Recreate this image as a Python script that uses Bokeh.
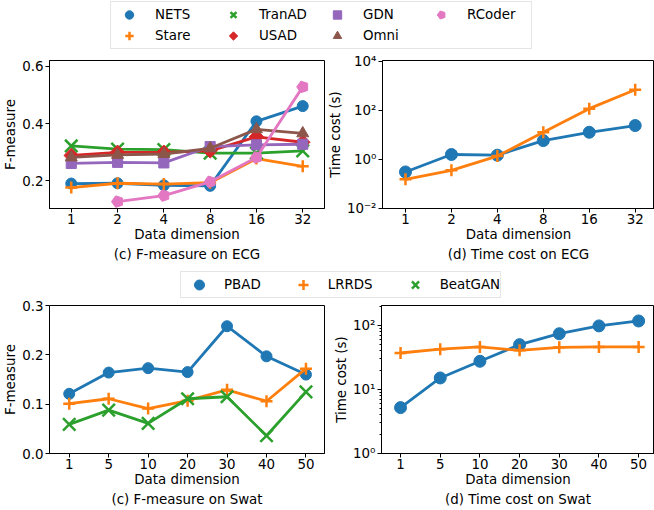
import math
from bokeh.plotting import figure
from bokeh.models import (FixedTicker, CustomJSTickFormatter, NumeralTickFormatter,
                          Legend, LegendItem, Title, Range1d)
from bokeh.layouts import column, row
from bokeh.embed import file_html
from bokeh.resources import INLINE

NAN = float("nan")

# ---------------- data ----------------
ecg_dims = ["1", "2", "4", "8", "16", "32"]
ecg_f_nets = [0.191, 0.192, 0.185, 0.183, 0.408, 0.461]
ecg_f_stare = [0.177, 0.192, 0.189, 0.194, 0.278, 0.251]
ecg_f_tranad = [0.322, 0.311, 0.309, 0.297, 0.297, 0.305]
ecg_f_usad = [0.289, 0.300, 0.300, 0.305, 0.354, 0.335]
ecg_f_gdn = [0.261, 0.265, 0.263, 0.320, 0.326, 0.328]
ecg_f_omni = [0.282, 0.291, 0.294, 0.314, 0.380, 0.366]
ecg_f_rcoder = [NAN, 0.128, 0.149, 0.197, 0.282, 0.528]

ecg_t_nets = [0.31, 1.6, 1.5, 5.9, 12.9, 24.3]
ecg_t_stare = [0.155, 0.36, 1.38, 12.9, 119, 703]

swat_dims = ["1", "5", "10", "20", "30", "40", "50"]
swat_f_pbad = [0.121, 0.164, 0.173, 0.165, 0.258, 0.197, 0.160]
swat_f_lrrds = [0.101, 0.111, 0.091, 0.107, 0.129, 0.106, 0.172]
swat_f_beatgan = [0.059, 0.088, 0.061, 0.111, 0.115, 0.036, 0.125]

swat_t_pbad = [5.2, 15.1, 27.5, 50, 74, 98, 117]
swat_t_lrrds = [37, 42.5, 46, 40.7, 45.4, 46, 46]

ecg_f_ticks = [0.2, 0.4, 0.6]
ecg_t_ticks = [1e-2, 1e0, 1e2, 1e4]
swat_f_ticks = [0.0, 0.1, 0.2, 0.3]
swat_t_ticks = [1, 10, 100]

# ---------------- style ----------------
FONT = "DejaVu Sans"
FS = "13.4px"
LW = 2.8
BLUE = "#1f77b4"; ORANGE = "#ff7f0e"; GREEN = "#2ca02c"; RED = "#d62728"
PURPLE = "#9467bd"; BROWN = "#8c564b"; PINK = "#e377c2"

SUP_JS = """
const sup = {"0":"\u2070","1":"\u00b9","2":"\u00b2","3":"\u00b3","4":"\u2074",
             "5":"\u2075","6":"\u2076","7":"\u2077","8":"\u2078","9":"\u2079","-":"\u207b"};
const e = Math.round(Math.log10(tick));
return "10" + String(e).split("").map(c => sup[c]).join("");
"""


def draw_ngon(p, xs, ys, color, n, radius, angle, fallback, fsize):
    if hasattr(p, "ngon"):
        try:
            return p.ngon(xs, ys, radius=radius, radius_units="screen", n=n,
                          angle=angle, fill_color=color, line_color=color)
        except Exception:
            pass
    return p.scatter(xs, ys, marker=fallback, size=fsize, fill_color=color, line_color=color)


def draw_marker(p, xs, ys, color, kind, size=11):
    if kind == "circle":
        return p.scatter(xs, ys, marker="circle", size=size, fill_color=color, line_color=color)
    if kind == "cross":
        return p.scatter(xs, ys, marker="cross", size=size + 1, line_color=color, line_width=2.5)
    if kind == "x":
        return p.scatter(xs, ys, marker="x", size=size * 1.6, line_color=color, line_width=2.5)
    if kind == "diamond":
        return draw_ngon(p, xs, ys, color, 4, size * 0.66, 0.0, "diamond", size * 1.3)
    if kind == "square":
        return p.scatter(xs, ys, marker="square", size=size * 0.92, fill_color=color, line_color=color)
    if kind == "triangle":
        return p.scatter(xs, ys, marker="triangle", size=size + 1, fill_color=color, line_color=color)
    if kind == "pentagon":
        return draw_ngon(p, xs, ys, color, 5, size * 0.55, math.pi / 2, "hex", size)


def draw_series(p, ys, color, kind, size=11):
    xs = list(range(len(ys)))
    p.line(xs, ys, line_color=color, line_width=LW)
    draw_marker(p, xs, ys, color, kind, size)


def make_fig(width, height, x_range, y_range, y_type, left, right, top, bottom,
             xlabels, ylabel, caption, yticks, log=False, minor=None):
    p = figure(width=width, height=height, x_range=x_range, y_range=y_range,
               y_axis_type=y_type, output_backend="svg", toolbar_location=None,
               min_border_left=left, min_border_right=right,
               min_border_top=top, min_border_bottom=bottom)
    p.xgrid.visible = False
    p.ygrid.visible = False
    p.outline_line_color = "black"
    p.outline_line_width = 1
    p.outline_line_alpha = 1
    p.background_fill_color = "white"
    p.border_fill_color = "white"
    for ax in (p.xaxis[0], p.yaxis[0]):
        ax.axis_line_color = "black"
        ax.axis_line_width = 1
        ax.major_tick_line_color = "black"
        ax.major_tick_in = 0
        ax.major_tick_out = 4
        ax.minor_tick_line_color = None
        ax.major_label_text_font = FONT
        ax.major_label_text_font_size = FS
        ax.major_label_text_color = "black"
        ax.axis_label_text_font = FONT
        ax.axis_label_text_font_size = FS
        ax.axis_label_text_font_style = "normal"
        ax.axis_label_text_color = "black"
    p.xaxis[0].major_label_standoff = 1
    p.xaxis[0].axis_label_standoff = 0
    p.yaxis[0].major_label_standoff = 2
    p.yaxis[0].axis_label_standoff = 1
    p.xaxis[0].ticker = FixedTicker(ticks=list(range(len(xlabels))), minor_ticks=[])
    p.xaxis[0].major_label_overrides = {i: l for i, l in enumerate(xlabels)}
    p.xaxis[0].axis_label = "Data dimension"
    p.yaxis[0].axis_label = ylabel
    if log:
        p.yaxis[0].ticker = FixedTicker(ticks=yticks, minor_ticks=minor or [])
        p.yaxis[0].formatter = CustomJSTickFormatter(code=SUP_JS)
        if minor:
            p.yaxis[0].minor_tick_line_color = "black"
            p.yaxis[0].minor_tick_in = 0
            p.yaxis[0].minor_tick_out = 2
    else:
        p.yaxis[0].ticker = FixedTicker(ticks=yticks, minor_ticks=[])
        p.yaxis[0].formatter = NumeralTickFormatter(format="0.0")
    p.add_layout(Title(text=caption, align="center", text_font=FONT, text_font_size=FS,
                       text_font_style="normal", text_color="black", standoff=0, offset=0),
                 "below")
    return p


def legend_fig(width, height, entries, ncols, loc, spacing, gw, gh, pad, standoff, label_width):
    lf = figure(width=width, height=height, output_backend="svg", toolbar_location=None,
                x_axis_type=None, y_axis_type=None, x_range=Range1d(0, 1), y_range=Range1d(0, 1),
                min_border=0)
    lf.xgrid.visible = False
    lf.ygrid.visible = False
    lf.outline_line_color = None
    lf.background_fill_color = "white"
    lf.border_fill_color = "white"
    items = []
    for label, color, kind, size in entries:
        # a single NaN point: nothing drawn in the plot, only the legend swatch
        r = draw_marker(lf, [NAN], [NAN], color, kind, size)
        items.append(LegendItem(label=label, renderers=[r]))
    leg = Legend(items=items, location=loc, orientation="horizontal", ncols=ncols,
                 spacing=spacing, glyph_width=gw, glyph_height=gh, label_height=gh,
                 label_width=label_width,
                 label_standoff=standoff, padding=pad, margin=0,
                 label_text_font=FONT, label_text_font_size=FS, label_text_color="black",
                 border_line_color="#cccccc", border_line_width=1,
                 background_fill_color="white", background_fill_alpha=0.8)
    lf.add_layout(leg)
    return lf


# ---------------- legends ----------------
leg1 = legend_fig(654, 50, [
    ("NETS", BLUE, "circle", 10), ("TranAD", GREEN, "x", 10),
    ("GDN", PURPLE, "square", 11), ("RCoder", PINK, "pentagon", 11),
    ("Stare", ORANGE, "cross", 10), ("USAD", RED, "diamond", 11),
    ("Omni", BROWN, "triangle", 11)],
    ncols=4, loc=(110, 1), spacing=0, gw=32, gh=21, pad=2, standoff=10, label_width=62)

leg2 = legend_fig(654, 36, [
    ("PBAD", BLUE, "circle", 10), ("LRRDS", ORANGE, "cross", 10),
    ("BeatGAN", GREEN, "x", 10)],
    ncols=3, loc=(180, 1), spacing=24, gw=36, gh=25, pad=0, standoff=7, label_width=20)

# ---------------- (c) F-measure on ECG ----------------
f1 = make_fig(325, 213, Range1d(-0.47, 5.47), Range1d(0.104, 0.62), "linear",
              48, 1, 7, 55, ecg_dims, "F-measure", "(c) F-measure on ECG", ecg_f_ticks)
draw_series(f1, ecg_f_nets, BLUE, "circle")
draw_series(f1, ecg_f_stare, ORANGE, "cross")
draw_series(f1, ecg_f_tranad, GREEN, "x")
draw_series(f1, ecg_f_usad, RED, "diamond")
draw_series(f1, ecg_f_gdn, PURPLE, "square")
draw_series(f1, ecg_f_omni, BROWN, "triangle")
draw_series(f1, ecg_f_rcoder, PINK, "pentagon")

# ---------------- (d) Time cost on ECG ----------------
f2 = make_fig(329, 213, Range1d(-0.5, 5.42), Range1d(1e-2, 1.1e4), "log",
              55, 0, 10, 54, ecg_dims, "Time cost (s)", "(d) Time cost on ECG",
              ecg_t_ticks, log=True)
draw_series(f2, ecg_t_nets, BLUE, "circle", 12)
draw_series(f2, ecg_t_stare, ORANGE, "cross")

# ---------------- (c) F-measure on Swat ----------------
f3 = make_fig(325, 211, Range1d(-0.5, 6.47), Range1d(0.0, 0.3), "linear",
              48, 1, 6, 57, swat_dims, "F-measure", "(c) F-measure on Swat", swat_f_ticks)
draw_series(f3, swat_f_pbad, BLUE, "circle")
draw_series(f3, swat_f_lrrds, ORANGE, "cross")
draw_series(f3, swat_f_beatgan, GREEN, "x")

# ---------------- (d) Time cost on Swat ----------------
swat_minor = [m * 10 ** k for k in range(0, 3) for m in range(2, 10) if m * 10 ** k < 210]
f4 = make_fig(329, 211, Range1d(-0.48, 6.4), Range1d(1, 204), "log",
              56, 0, 6, 57, swat_dims, "Time cost (s)", "(d) Time cost on Swat",
              swat_t_ticks, log=True, minor=swat_minor)
draw_series(f4, swat_t_pbad, BLUE, "circle", 12)
draw_series(f4, swat_t_lrrds, ORANGE, "cross")

layout = column(leg1, row(f1, f2), leg2, row(f3, f4))
open("out.html", "w").write(file_html(layout, INLINE))
